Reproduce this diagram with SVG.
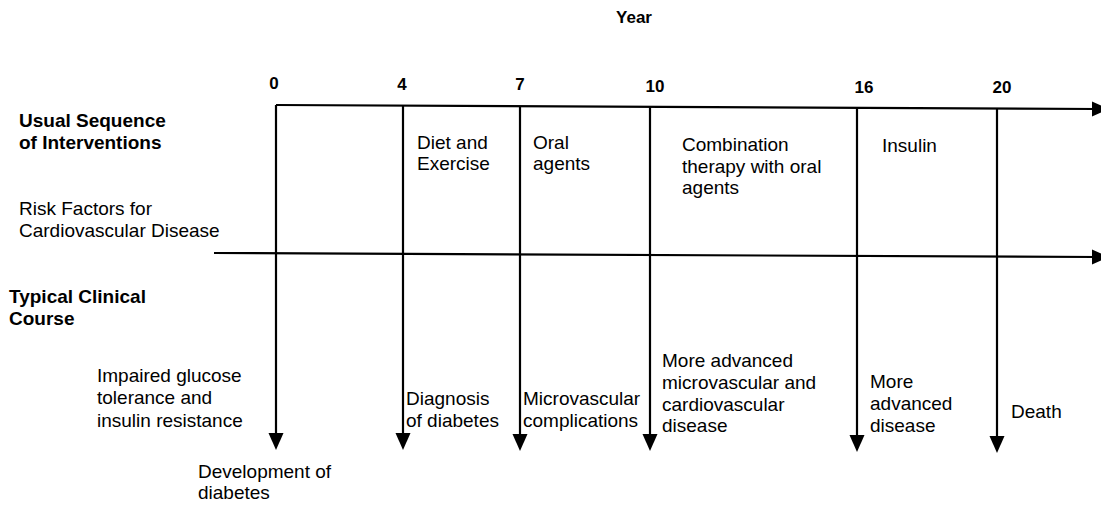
<svg xmlns="http://www.w3.org/2000/svg" width="1101" height="508" viewBox="0 0 1101 508">
<style>
text{font-family:"Liberation Sans",Arial,sans-serif;font-size:19px;fill:#000}
.b{font-weight:bold}
.n{font-weight:bold;font-size:17px;text-anchor:middle}
.ln{stroke:#000;stroke-width:2.2;fill:none}
</style>
<defs>
<marker id="ah" markerUnits="userSpaceOnUse" markerWidth="18" markerHeight="16" refX="5" refY="7.5" orient="auto">
<path d="M0,0 L17,7.5 L0,15 z" fill="#000"/>
</marker>
</defs>
<rect width="1101" height="508" fill="#fff"/>
<g id="connectors">
<line class="ln" x1="276" y1="105" x2="1097" y2="109" marker-end="url(#ah)"/>
<line class="ln" x1="214" y1="253" x2="1097" y2="257" marker-end="url(#ah)"/>
<line class="ln" x1="276" y1="105" x2="276" y2="438" marker-end="url(#ah)"/>
<line class="ln" x1="403" y1="106" x2="403" y2="438" marker-end="url(#ah)"/>
<line class="ln" x1="520" y1="106" x2="520" y2="439" marker-end="url(#ah)"/>
<line class="ln" x1="650" y1="107" x2="650" y2="439" marker-end="url(#ah)"/>
<line class="ln" x1="857" y1="108" x2="857" y2="440" marker-end="url(#ah)"/>
<line class="ln" x1="997" y1="108" x2="997" y2="441" marker-end="url(#ah)"/>
</g>
<g id="axis-title"><text class="b" x="634" y="23" text-anchor="middle" style="font-size:17px">Year</text></g>
<g id="years">
<text class="n" x="274" y="89">0</text>
<text class="n" x="402" y="90">4</text>
<text class="n" x="520" y="90">7</text>
<text class="n" x="655" y="92">10</text>
<text class="n" x="864" y="93">16</text>
<text class="n" x="1002" y="93">20</text>
</g>
<g id="row-labels">
<text class="b" x="19" y="127">Usual Sequence</text>
<text class="b" x="19" y="149">of Interventions</text>
<text x="19" y="215">Risk Factors for</text>
<text x="19" y="237">Cardiovascular Disease</text>
<text class="b" x="9" y="303">Typical Clinical</text>
<text class="b" x="9" y="325">Course</text>
</g>
<g id="interventions">
<g id="diet"><text x="417" y="149">Diet and</text><text x="417" y="170">Exercise</text></g>
<g id="oral"><text x="533" y="149">Oral</text><text x="533" y="170">agents</text></g>
<g id="combination"><text x="682" y="151">Combination</text><text x="682" y="173">therapy with oral</text><text x="682" y="194">agents</text></g>
<g id="insulin"><text x="882" y="152">Insulin</text></g>
</g>
<g id="course">
<g id="impaired"><text x="97" y="382">Impaired glucose</text><text x="97" y="404">tolerance and</text><text x="97" y="427">insulin resistance</text></g>
<g id="development"><text x="198" y="478">Development of</text><text x="198" y="499">diabetes</text></g>
<g id="diagnosis"><text x="406" y="405">Diagnosis</text><text x="406" y="427">of diabetes</text></g>
<g id="micro"><text x="523" y="405">Microvascular</text><text x="523" y="427">complications</text></g>
<g id="advanced1"><text x="662" y="367">More advanced</text><text x="662" y="389">microvascular and</text><text x="662" y="411">cardiovascular</text><text x="662" y="432">disease</text></g>
<g id="advanced2"><text x="870" y="388">More</text><text x="870" y="410">advanced</text><text x="870" y="432">disease</text></g>
<g id="death"><text x="1011" y="418">Death</text></g>
</g>
</svg>
